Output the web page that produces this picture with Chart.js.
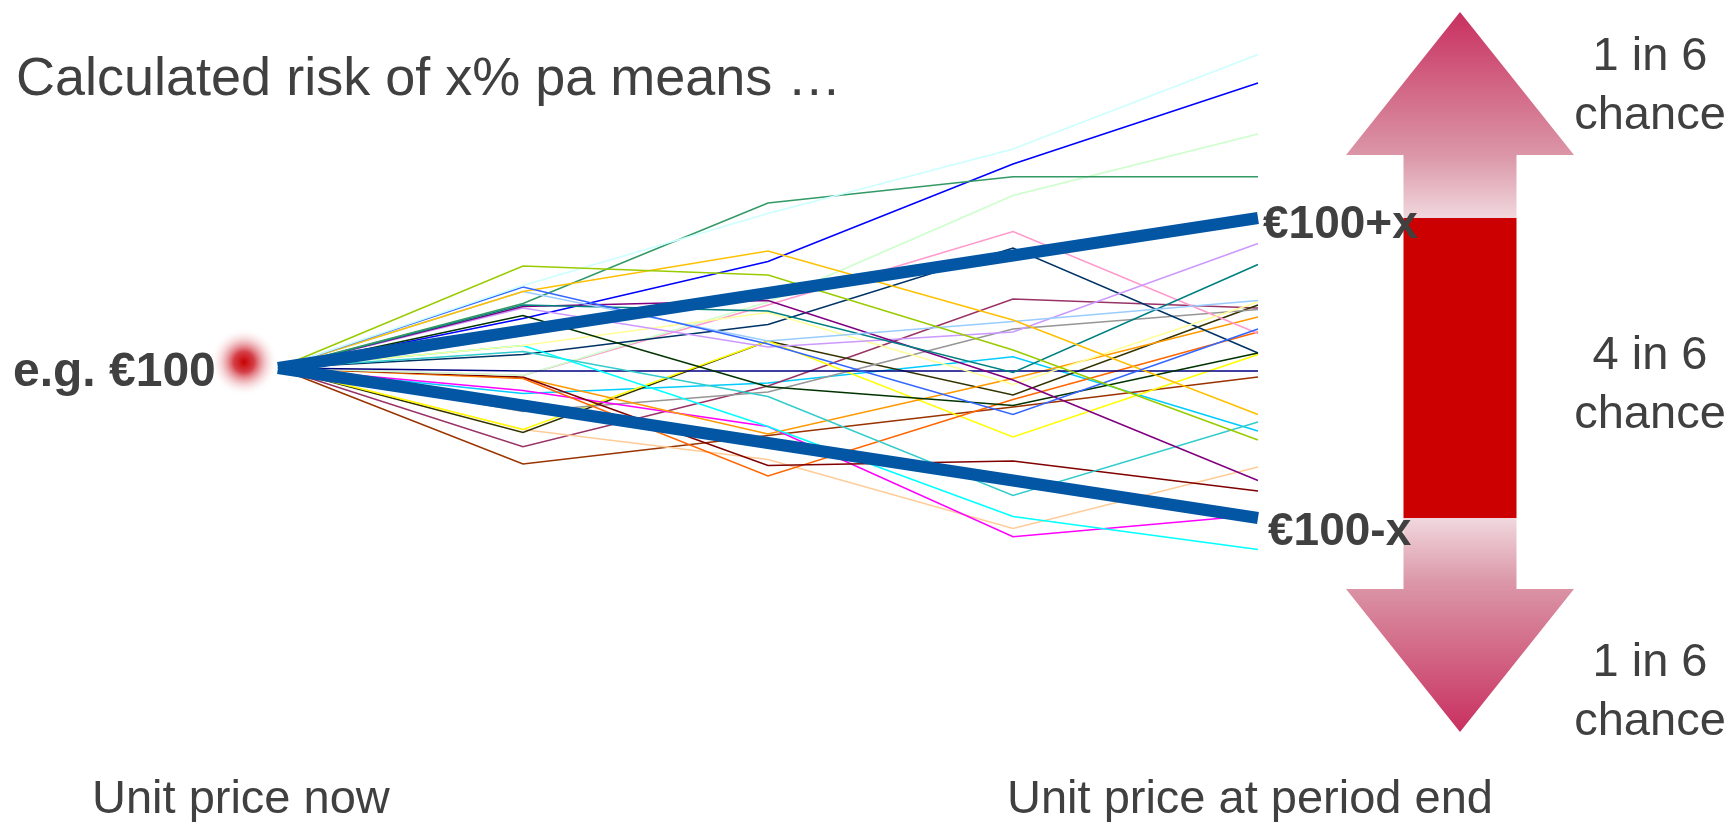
<!DOCTYPE html>
<html>
<head>
<meta charset="utf-8">
<script src="https://cdn.jsdelivr.net/npm/chart.js@4.4.1/dist/chart.umd.min.js"></script>
<style>
  html, body { margin: 0; padding: 0; background: #ffffff; }
  #wrap { position: relative; width: 1733px; height: 822px; }
</style>
</head>
<body>
<div id="wrap"><canvas id="risk-chart"></canvas></div>
<script>
// Steps along the holding period (start -> end)
const steps = ['now', '', '', '', 'end'];

// Band edges (thick blue lines): €100 +/- x
const upperBand = [100, 102.5, 105, 107.5, 110];
const lowerBand = [100, 97.5, 95, 92.5, 90];

// Simulated unit price paths
const pathYellowGreen = [100, 106.8, 106.2, 101.2, 95.2];
const pathLightCyan = [100, 105.5, 110.3, 114.6, 120.9];
const pathRoyalBlue = [100, 105.4, 101.6, 96.9, 102.6];
const pathGold = [100, 105.1, 107.8, 103.2, 96.9];
const pathLightBlue = [100, 105.1, 101.8, 103.1, 104.5];
const pathSeaGreen = [100, 104.3, 111.0, 112.75, 112.75];
const pathTeal = [100, 104.2, 103.8, 99.7, 106.9];
const pathPurple = [100, 104.1, 104.5, 99.2, 92.5];
const pathLavender = [100, 104.0, 101.4, 102.4, 108.3];
const pathDarkGreen = [100, 103.5, 98.75, 97.5, 101.0];
const pathBlue = [100, 103.3, 107.1, 113.6, 119.0];
const pathPaleYellow = [100, 101.5, 103.7, 98.9, 104.4];
const pathCyan = [100, 101.5, 96.1, 90.1, 87.9];
const pathTurquoise = [100, 101.1, 98.1, 91.5, 96.4];
const pathDarkBlue = [100, 100.9, 102.9, 108.0, 101.0];
const pathNavy = [100, 99.8, 99.8, 99.8, 99.8];
const pathLightGreen = [100, 99.5, 104.4, 111.5, 115.6];
const pathPink = [100, 99.5, 104.2, 109.1, 102.3];
const pathDarkRed = [100, 99.4, 93.5, 93.8, 91.8];
const pathOrange = [100, 99.35, 95.6, 99.3, 103.4];
const pathOrangeRed = [100, 99.3, 92.8, 97.9, 102.4];
const pathMagenta = [100, 98.5, 96.1, 88.75, 90.2];
const pathGrey = [100, 97.1, 98.4, 102.6, 103.9];
const pathYellow = [100, 95.9, 101.8, 95.4, 100.9];
const pathOlive = [100, 95.7, 101.8, 98.2, 104.2];
const pathPeach = [100, 95.9, 93.9, 89.3, 93.4];
const pathPlum = [100, 94.75, 98.8, 104.6, 104.0];
const pathBrown = [100, 93.6, 95.5, 97.4, 99.4];
const pathSkyBlue = [100, 98.3, 99.0, 100.75, 95.8];

const paths = [
  pathYellowGreen, pathLightCyan, pathRoyalBlue, pathGold, pathLightBlue,
  pathSeaGreen, pathTeal, pathPurple, pathLavender, pathDarkGreen,
  pathBlue, pathPaleYellow, pathCyan, pathTurquoise, pathDarkBlue,
  pathNavy, pathLightGreen, pathPink, pathDarkRed, pathOrange,
  pathOrangeRed, pathMagenta, pathGrey, pathYellow, pathOlive,
  pathPeach, pathPlum, pathBrown, pathSkyBlue
];
const pathColours = [
  '#99CC00', '#CCFFFF', '#3366FF', '#FFC000', '#99CCFF',
  '#339966', '#008080', '#800080', '#CC99FF', '#003300',
  '#0000FF', '#FFFF99', '#00FFFF', '#33CCCC', '#003366',
  '#000080', '#CCFFCC', '#FF99CC', '#800000', '#FF9900',
  '#FF6600', '#FF00FF', '#969696', '#FFFF00', '#333300',
  '#FFCC99', '#993366', '#993300', '#00CCFF'
];

// Texts
const titleText = 'Calculated risk of x% pa means …';
const startLabel = 'e.g. €100';
const upperLabel = '€100+x';
const lowerLabel = '€100-x';
const chanceLabels = [['1 in 6', 'chance'], ['4 in 6', 'chance'], ['1 in 6', 'chance']];
const axisLabels = ['Unit price now', 'Unit price at period end'];

const textColour = '#404040';
const bandColour = '#0256A3';

// Build datasets
const datasets = [
  { data: upperBand, borderColor: bandColour, borderWidth: 12, order: 0 },
  { data: lowerBand, borderColor: bandColour, borderWidth: 12, order: 0 }
];
paths.forEach((p, i) => {
  datasets.push({ data: p, borderColor: pathColours[i], borderWidth: 1.6, order: 1 });
});

// Decorations: title, labels, red dot and the double arrow
const decorations = {
  id: 'decorations',
  beforeDatasetsDraw(chart) {
    const ctx = chart.ctx;
    const xs = chart.scales.x;
    const ys = chart.scales.y;
    // blurred red dot at the start
    const cx = xs.getPixelForValue(0) - 34;
    const cy = ys.getPixelForValue(100) - 6;
    const g = ctx.createRadialGradient(cx, cy, 0, cx, cy, 34);
    g.addColorStop(0, 'rgba(200,0,0,1)');
    g.addColorStop(0.3, 'rgba(205,30,40,0.85)');
    g.addColorStop(0.65, 'rgba(225,120,130,0.35)');
    g.addColorStop(1, 'rgba(255,255,255,0)');
    ctx.save();
    ctx.fillStyle = g;
    ctx.beginPath();
    ctx.arc(cx, cy, 34, 0, Math.PI * 2);
    ctx.fill();
    ctx.restore();
  },
  afterDatasetsDraw(chart) {
    const ctx = chart.ctx;
    const xs = chart.scales.x;
    const ys = chart.scales.y;
    const xEnd = xs.getPixelForValue(steps.length - 1);
    const yStart = ys.getPixelForValue(100);
    const yUp = ys.getPixelForValue(upperBand[upperBand.length - 1]);
    const yDown = ys.getPixelForValue(lowerBand[lowerBand.length - 1]);

    ctx.save();

    // double arrow
    const ax = xEnd + 202;
    const shaft = 56.5;
    const head = 114;
    const topTip = 12, topBase = 155;
    const botBase = 589, botTip = 732;

    let gTop = ctx.createLinearGradient(0, topTip, 0, yUp);
    gTop.addColorStop(0, '#C8305F');
    gTop.addColorStop(0.7, '#DB97A8');
    gTop.addColorStop(1, '#F1D8DE');
    ctx.fillStyle = gTop;
    ctx.beginPath();
    ctx.moveTo(ax, topTip);
    ctx.lineTo(ax + head, topBase);
    ctx.lineTo(ax + shaft, topBase);
    ctx.lineTo(ax + shaft, yUp);
    ctx.lineTo(ax - shaft, yUp);
    ctx.lineTo(ax - shaft, topBase);
    ctx.lineTo(ax - head, topBase);
    ctx.closePath();
    ctx.fill();

    let gBot = ctx.createLinearGradient(0, yDown, 0, botTip);
    gBot.addColorStop(0, '#F1D8DE');
    gBot.addColorStop(0.3, '#DB97A8');
    gBot.addColorStop(1, '#C8305F');
    ctx.fillStyle = gBot;
    ctx.beginPath();
    ctx.moveTo(ax - shaft, yDown);
    ctx.lineTo(ax + shaft, yDown);
    ctx.lineTo(ax + shaft, botBase);
    ctx.lineTo(ax + head, botBase);
    ctx.lineTo(ax, botTip);
    ctx.lineTo(ax - head, botBase);
    ctx.lineTo(ax - shaft, botBase);
    ctx.closePath();
    ctx.fill();

    ctx.fillStyle = '#CC0000';
    ctx.fillRect(ax - shaft, yUp, shaft * 2, yDown - yUp);

    // texts
    ctx.fillStyle = textColour;
    ctx.textBaseline = 'alphabetic';
    ctx.textAlign = 'left';
    ctx.font = '54px "Liberation Sans", Arial, sans-serif';
    ctx.fillText(titleText, 16, 95);

    ctx.font = 'bold 48px "Liberation Sans", Arial, sans-serif';
    ctx.fillText(startLabel, 13, yStart + 18);
    ctx.font = 'bold 46px "Liberation Sans", Arial, sans-serif';
    ctx.fillText(upperLabel, xEnd + 5, yUp + 20);
    ctx.fillText(lowerLabel, xEnd + 10, yDown + 27);

    ctx.font = '47px "Liberation Sans", Arial, sans-serif';
    ctx.fillText(axisLabels[0], 92, 813);
    ctx.fillText(axisLabels[1], 1007, 813);

    ctx.textAlign = 'center';
    const chanceX = 1650;
    const chanceY = [70, 369, 676];
    chanceLabels.forEach((lines, i) => {
      ctx.fillText(lines[0], chanceX, chanceY[i]);
      ctx.fillText(lines[1], chanceX, chanceY[i] + 59);
    });

    ctx.restore();
  }
};

const chart = new Chart(document.getElementById('risk-chart'), {
  type: 'line',
  data: { labels: steps, datasets: datasets },
  options: {
    responsive: true,
    maintainAspectRatio: false,
    animation: false,
    layout: { padding: { left: 278, right: 475, top: 8, bottom: 124 } },
    elements: {
      line: { tension: 0, fill: false, borderCapStyle: 'butt', borderJoinStyle: 'miter' },
      point: { radius: 0, hoverRadius: 0 }
    },
    scales: {
      x: { type: 'category', display: false, offset: false },
      y: { type: 'linear', display: false, min: 78, max: 124 }
    },
    plugins: {
      legend: { display: false },
      tooltip: { enabled: false },
      title: { display: false }
    }
  },
  plugins: [decorations]
});
</script>
</body>
</html>
